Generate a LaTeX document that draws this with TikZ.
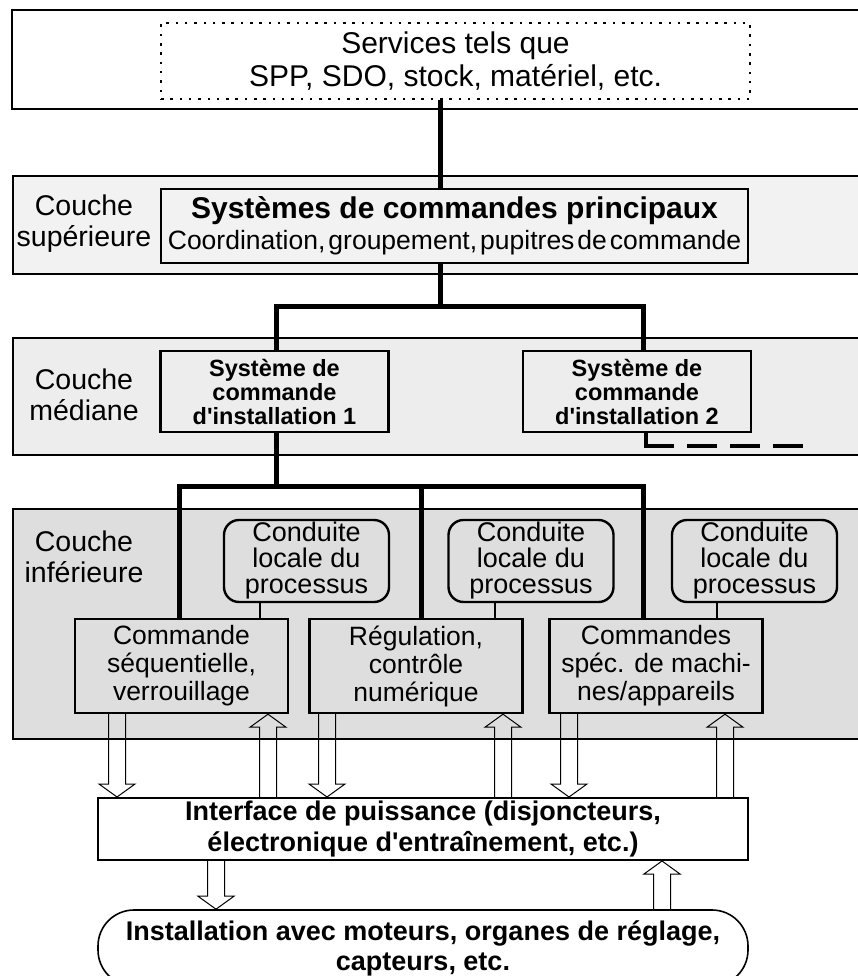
\documentclass[tikz,border=0pt]{standalone}
\usepackage{fontspec}
\setmainfont{Liberation Sans}[Ligatures=TeXOff]
\usetikzlibrary{calc}
% hollow arrows (open head, two-line shaft)
\newcommand{\fatdown}[2]{\draw[fat] let \p1=(#1), \p2=(#2) in (\x1-8.5pt,\y1) -- (\x1-8.5pt,\y2+13pt) -- (\x1-18pt,\y2+13pt) -- (\x1,\y2) -- (\x1+18pt,\y2+13pt) -- (\x1+8.5pt,\y2+13pt) -- (\x1+8.5pt,\y1);}
\newcommand{\fatup}[2]{\draw[fat] let \p1=(#1), \p2=(#2) in (\x1-8.5pt,\y1) -- (\x1-8.5pt,\y2-13pt) -- (\x1-18pt,\y2-13pt) -- (\x1,\y2) -- (\x1+18pt,\y2-13pt) -- (\x1+8.5pt,\y2-13pt) -- (\x1+8.5pt,\y1);}
\newcommand{\link}[3]{\draw[link] (#1 -| #3) -- (#2 -| #3);}
\tikzset{
  layer/.style={draw, line width=2pt, anchor=north west, minimum width=880pt, inner sep=0pt},
  box/.style={draw, line width=2.4pt, align=center, inner sep=0pt},
  local/.style={box, rounded corners=15pt, minimum width=165pt, minimum height=82pt, font=\fontsize{27}{26}\selectfont},
  cmd/.style={box, minimum width=213pt, minimum height=94pt, font=\fontsize{26.5}{28}\selectfont},
  inst/.style={box, minimum width=228pt, minimum height=81pt, font=\bfseries\fontsize{23.5}{24}\selectfont},
  side/.style={align=center, font=\fontsize{28.5}{31}\selectfont},
  bus/.style={line width=5pt},
  link/.style={line width=2pt},
  fat/.style={line width=1pt}
}
\begin{document}
\begin{tikzpicture}[x=1pt,y=-1pt]
\useasboundingbox (0,0) rectangle (858,976);
% layers
\node[layer, minimum height=99pt] (lay0) at (11,9) {};
\node[layer, fill=black!5, minimum height=98pt] (lay1) at (12,175) {};
\node[layer, fill=black!7, minimum height=117pt] (lay2) at (12,337) {};
\node[layer, fill=black!13, minimum height=230pt] (lay3) at (12,508) {};
\node[side] (sup) at (84,224) {Couche\\supérieure};
\node[side] (med) at (84,395) {Couche\\médiane};
\node[side] (inf) at (84,557) {Couche\\inférieure};

\node[draw, line width=2.5pt, dash pattern=on 2.5pt off 6.8pt, minimum width=589pt, minimum height=76pt,
  align=center, font=\fontsize{30}{33}\selectfont] (svc) at (455.5,61) {Services tels que\\SPP, SDO, stock, matériel, etc.};
\node[box, minimum width=587pt, minimum height=74pt, font=\fontsize{26.5}{31}\selectfont] (main) at (454.5,226)
  {{\bfseries\fontsize{30}{31}\selectfont Systèmes de commandes principaux}\\{\spaceskip=3pt Coordination, groupement, pupitres de commande}};

\node[inst] (inst1) at (274.5,391.5) {Système de\\commande\\d'installation 1};
\node[inst] (inst2) at (637,391.5) {Système de\\commande\\d'installation 2};

\node[local] (loc1) at (306.5,561) {Conduite\\locale du\\processus};
\node[local] (loc2) at (531,561) {Conduite\\locale du\\processus};
\node[local] (loc3) at (754.5,561) {Conduite\\locale du\\processus};

\node[cmd] (seq) at (181.5,666) {Commande\\séquentielle,\\verrouillage};
\node[cmd] (reg) at (416,666) {Régulation,\\contrôle\\numérique};
\node[cmd] (mach) at (656,666) {Commandes\\spéc. de machi-\\nes/appareils};

\node[box, line width=2pt, minimum width=650pt, minimum height=62pt, font=\bfseries\fontsize{27}{31}\selectfont] (iface) at (423,829)
  {Interface de puissance (disjoncteurs,\\électronique d'entraînement, etc.)};
\node[box, line width=1.6pt, rounded corners=36pt, minimum width=650pt, minimum height=76pt, font=\bfseries\fontsize{27}{30}\selectfont] (plant) at (423,948)
  {Installation avec moteurs, organes de réglage,\\capteurs, etc.};

% bus lines
\coordinate (cx) at (440,0);
\coordinate (k1) at (276,0);
\coordinate (k2) at (643,0);
\coordinate (b1) at (440,306);
\coordinate (b2) at (276,486);
\coordinate (s1) at (179,0);
\coordinate (s2) at (421,0);
\coordinate (s3) at (643,0);
\draw[bus] (svc.south -| cx) -- (main.north -| cx);
\draw[bus] (main.south -| cx) -- (b1);
\draw[bus] (inst1.north -| k1) |- (b1 -| k2) -- (inst2.north -| k2);
\draw[bus] (inst1.south -| k1) -- (b2);
\draw[bus] (seq.north -| s1) |- (b2 -| s3) -- (mach.north -| s3);
\draw[bus] (reg.north -| s2) -- (b2 -| s2);
% towards installation 2 (continues)
\coordinate (d0) at (646,446);
\coordinate (dn) at (803,446);
\draw[bus, line width=4.5pt] (inst2.south -| d0) -- ($(d0)+(0,2.25)$);
\draw[bus, line width=4.5pt, dash pattern=on 30pt off 13pt] ($(d0)+(-2.25,0)$) -- (dn);

% local process lines
\coordinate (c1) at (260,0);
\coordinate (c2) at (495,0);
\coordinate (c3) at (717,0);
\link{loc1.south}{seq.north}{c1}
\link{loc2.south}{reg.north}{c2}
\link{loc3.south}{mach.north}{c3}

% power interface arrows
\coordinate (a1) at (117,0);  \coordinate (e1) at (268,0);
\coordinate (a2) at (327,0);  \coordinate (e2) at (503,0);
\coordinate (a3) at (569,0);  \coordinate (e3) at (725,0);
\coordinate (a4) at (216,0);  \coordinate (e4) at (662,0);
\fatdown{seq.south -| a1}{iface.north -| a1}
\fatup{iface.north -| e1}{seq.south -| e1}
\fatdown{reg.south -| a2}{iface.north -| a2}
\fatup{iface.north -| e2}{reg.south -| e2}
\fatdown{mach.south -| a3}{iface.north -| a3}
\fatup{iface.north -| e3}{mach.south -| e3}
\fatdown{iface.south -| a4}{plant.north -| a4}
\fatup{plant.north -| e4}{iface.south -| e4}
\end{tikzpicture}
\end{document}
